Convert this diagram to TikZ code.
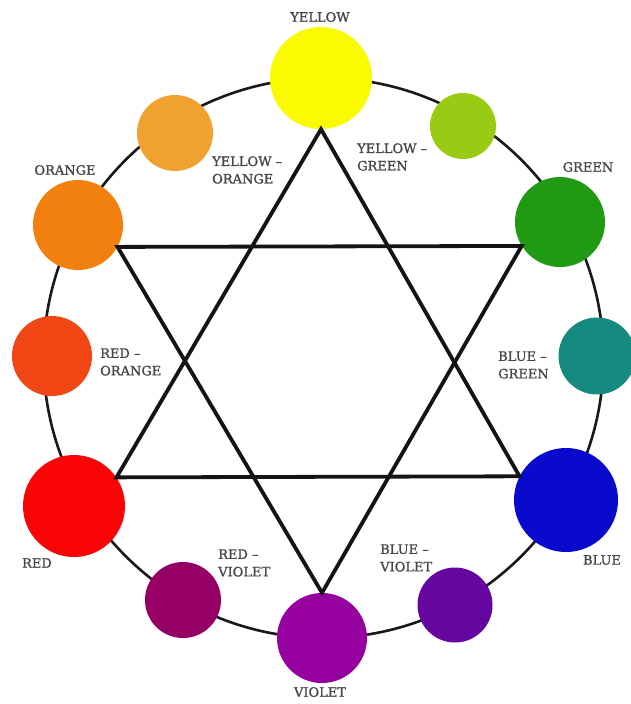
\documentclass[tikz,border=0pt]{standalone}
\usepackage{fontspec}
\setmainfont{DejaVu Serif}
\newfontfamily\labfont[FakeBold=1.2]{DejaVu Serif}
\begin{document}
\begin{tikzpicture}[x=1pt,y=-1pt,
  blob/.style={circle,draw=none,inner sep=0pt,minimum size=#1},
  lab/.style={font=\labfont\fontsize{13}{17.5}\selectfont,text=black!72,inner sep=0pt},
  lab2/.style={lab,align=left,anchor=west},
  star/.style={line width=3.8pt,line join=miter,black!92},
  ring/.style={line width=2.6pt,black!90}]
\useasboundingbox[fill=white] (0,0) rectangle (631,704);
\definecolor{cY}{HTML}{FAFA00}
\definecolor{cYO}{HTML}{F0A22E}
\definecolor{cYG}{HTML}{9ACB14}
\definecolor{cO}{HTML}{F2800E}
\definecolor{cG}{HTML}{1F9A12}
\definecolor{cRO}{HTML}{F04714}
\definecolor{cBG}{HTML}{158A7E}
\definecolor{cR}{HTML}{FA0505}
\definecolor{cB}{HTML}{0A0ACC}
\definecolor{cRV}{HTML}{960066}
\definecolor{cV}{HTML}{96009E}
\definecolor{cBV}{HTML}{65079E}
% ring
\draw[ring] (323.5,358) circle[radius=280];
% colour discs
\node[blob=102pt,fill=cY]  (yellow) at (321,78) {};
\node[blob=76pt,fill=cYO]  (yo) at (175,133) {};
\node[blob=66pt,fill=cYG]  (yg) at (463,126) {};
\node[blob=90pt,fill=cO]   (orange) at (78,225) {};
\node[blob=90pt,fill=cG]   (green) at (560,222) {};
\node[blob=80pt,fill=cRO]  (ro) at (52,356) {};
\node[blob=77pt,fill=cBG]  (bg) at (597,356) {};
\node[blob=102pt,fill=cR]  (red) at (74,506) {};
\node[blob=104pt,fill=cB]  (blue) at (566,500) {};
\node[blob=76pt,fill=cRV]  (rv) at (183,600) {};
\node[blob=90pt,fill=cV]   (violet) at (322,638) {};
\node[blob=75pt,fill=cBV]  (bv) at (455,605) {};
% star
\draw[star] (yellow.south) -- (red.34) -- (blue.153) -- cycle;
\draw[star] (orange.-29) -- (green.212) -- (violet.north) -- cycle;
% labels
\node[lab] (lY) at (320,17) {YELLOW};
\node[lab] (lO) at (65,170) {ORANGE};
\node[lab] (lG) at (588,167) {GREEN};
\node[lab] (lR) at (37,563) {RED};
\node[lab] (lB) at (602,560) {BLUE};
\node[lab] (lV) at (320,692) {VIOLET};
\node[lab2] (lYO) at (212,170) {YELLOW –\\ORANGE};
\node[lab2] (lYG) at (357,157) {YELLOW –\\GREEN};
\node[lab2] (lRO) at (100,362) {RED –\\ORANGE};
\node[lab2] (lBG) at (498,365) {BLUE –\\GREEN};
\node[lab2] (lRV) at (218,563) {RED –\\VIOLET};
\node[lab2] (lBV) at (380,558) {BLUE –\\VIOLET};
\end{tikzpicture}
\end{document}
